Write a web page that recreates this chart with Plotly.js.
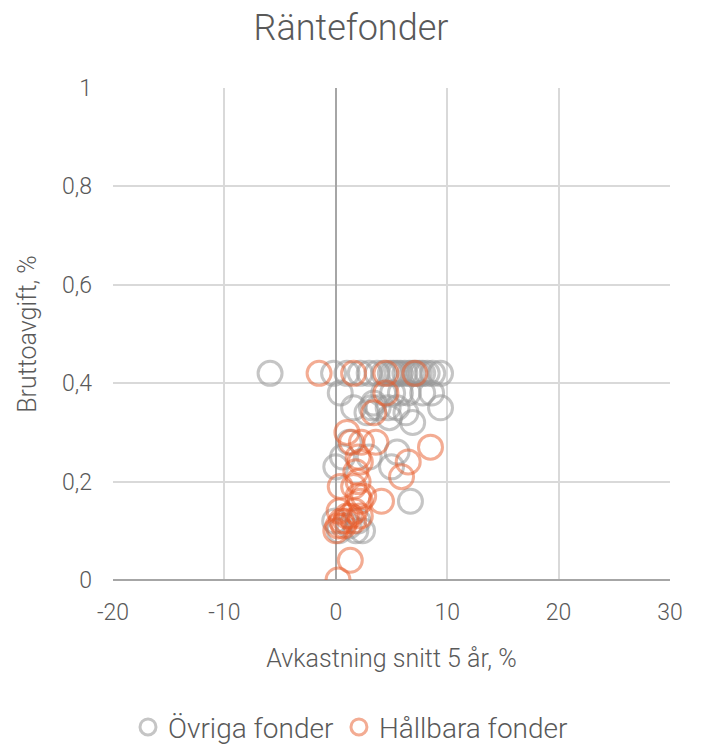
<!DOCTYPE html>
<html><head><meta charset="utf-8">
<script src="https://cdn.plot.ly/plotly-3.0.1.min.js"></script>
<style>body{margin:0;padding:0;background:#fff}#chart{width:702px;height:756px}</style>
</head><body><div id="chart"></div>
<script>
const ovrigaX = [-5.9,-0.2,1.0,2.2,3.0,3.7,4.3,4.9,5.2,5.5,5.8,6.2,6.6,6.9,7.2,7.5,7.8,8.2,8.7,9.4,
  0.4,4.3,5.1,5.8,6.5,7.8,8.6,
  1.6,3.2,4.7,5.5,9.4,3.8,2.8,6.3,6.9,4.8,3.4,
  1.2,5.5,3.0,0.6,0.0,5.0,6.7,-0.1,2.0,0.3,2.4,1.8,1.2];
const ovrigaY = [0.42,0.42,0.42,0.42,0.42,0.42,0.42,0.42,0.42,0.42,0.42,0.42,0.42,0.42,0.42,0.42,0.42,0.42,0.42,0.42,
  0.38,0.38,0.38,0.38,0.38,0.38,0.38,
  0.35,0.35,0.35,0.35,0.35,0.35,0.34,0.34,0.32,0.33,0.36,
  0.28,0.26,0.25,0.25,0.23,0.23,0.16,0.12,0.12,0.10,0.10,0.10,0.11];
const hallbaraX = [-1.5,1.6,4.5,7.1,4.5,3.4,1.0,1.4,2.3,3.6,8.5,2.0,2.2,6.5,1.8,5.9,2.0,1.6,0.4,2.5,2.0,2.2,4.1,1.7,2.2,1.3,0.9,0.5,0.2,0.0,0.7,1.0,1.6,0.3,1.3,0.2];
const hallbaraY = [0.42,0.42,0.42,0.42,0.38,0.34,0.30,0.28,0.28,0.28,0.27,0.25,0.24,0.24,0.22,0.21,0.20,0.19,0.19,0.17,0.17,0.16,0.16,0.14,0.13,0.13,0.12,0.12,0.11,0.10,0.11,0.13,0.12,0.14,0.04,0.0];

const xTickVals = [-20, -10, 0, 10, 20, 30];
const xTickText = ['-20', '-10', '0', '10', '20', '30'];
const yTickVals = [0, 0.2, 0.4, 0.6, 0.8, 1];
const yTickText = ['0', '0,2', '0,4', '0,6', '0,8', '1'];

const FONT = "Roboto, 'Open Sans', sans-serif";
const traces = [
  {x: ovrigaX, y: ovrigaY, name: 'Övriga fonder', type: 'scatter', mode: 'markers',
   marker: {symbol: 'circle-open', size: 24, color: 'rgba(150,150,150,0.55)', line: {width: 3, color: 'rgba(150,150,150,0.55)'}}},
  {x: hallbaraX, y: hallbaraY, name: 'Hållbara fonder', type: 'scatter', mode: 'markers',
   marker: {symbol: 'circle-open', size: 24, color: 'rgba(232,90,40,0.5)', line: {width: 3, color: 'rgba(232,90,40,0.5)'}}}
];
const layout = {
  width: 702, height: 756,
  margin: {l: 113, r: 32, t: 88, b: 176},
  font: {family: FONT, color: '#595959', size: 23, weight: 300},
  title: {text: 'Räntefonder', font: {size: 36, color: '#595959', weight: 300}, x: 0.5, xanchor: 'center', y: 0.98, yanchor: 'top', automargin: false},
  showlegend: true,
  legend: {orientation: 'h', xref: 'container', yref: 'container', x: 0.5, xanchor: 'center', y: 0.005, yanchor: 'bottom', font: {size: 28, weight: 300}, itemwidth: 30},
  xaxis: {range: [-20, 30], tickvals: xTickVals, ticktext: xTickText, showgrid: true, gridcolor: '#d9d9d9', gridwidth: 2,
          zeroline: true, zerolinecolor: '#a6a6a6', zerolinewidth: 2, showline: false, ticks: '', ticklabelstandoff: 16, automargin: false,
          tickfont: {size: 23, weight: 300}, title: {text: 'Avkastning snitt 5 år, %', font: {size: 25, weight: 300}, standoff: 24}, fixedrange: true},
  yaxis: {range: [0, 1], tickvals: yTickVals, ticktext: yTickText, showgrid: true, gridcolor: '#d9d9d9', gridwidth: 2,
          zeroline: true, zerolinecolor: '#a6a6a6', zerolinewidth: 2, showline: false, ticks: '', ticklabelstandoff: 20, automargin: false,
          tickfont: {size: 23, weight: 300}, title: {text: 'Bruttoavgift, %', font: {size: 25, weight: 300}, standoff: 18}, fixedrange: true},
  plot_bgcolor: '#fff', paper_bgcolor: '#fff'
};
Plotly.newPlot('chart', traces, layout, {displayModeBar: false, staticPlot: true});
</script></body></html>
